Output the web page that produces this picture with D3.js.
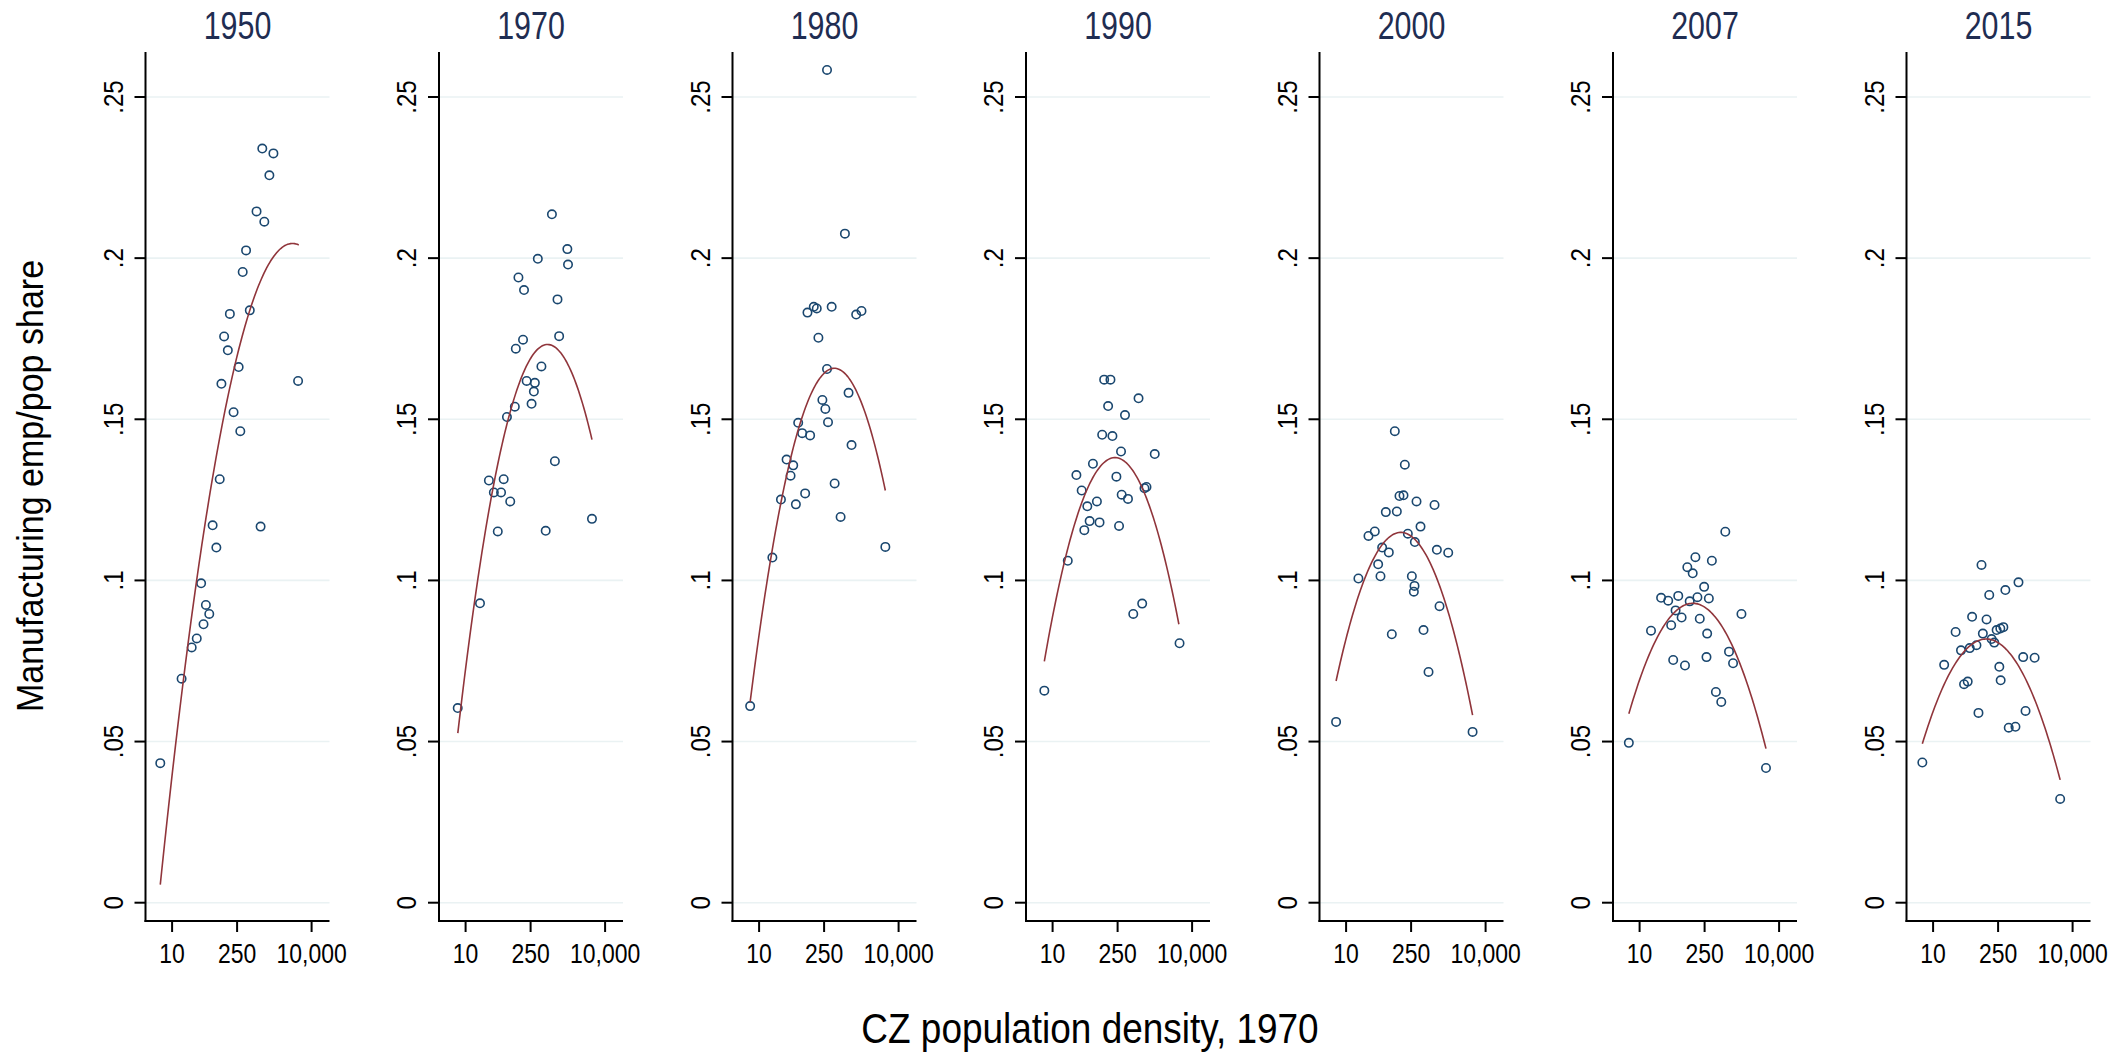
<!DOCTYPE html>
<html><head><meta charset="utf-8">
<script src="https://cdn.jsdelivr.net/npm/d3@7"></script>
<style>body{margin:0;background:#fff} svg{display:block}</style>
</head><body><svg id="c" width="2124" height="1053"></svg>
<script>
const years = ["1950","1970","1980","1990","2000","2007","2015"];
const yTicks = [0, .05, .1, .15, .2, .25];
const yTickLabels = ["0", ".05", ".1", ".15", ".2", ".25"];
const xTicks = [10, 250, 10000];
const xTickLabels = ["10", "250", "10,000"];
const xTitle = "CZ population density, 1970";
const yTitle = "Manufacturing emp/pop share";

// [density, share]
const pts1950 = [[5.57,.0433],[16.0,.0695],[26.4,.0792],[33.9,.0820],[47.4,.0864],[53.3,.0924],[63.0,.0896],[42.1,.0991],[89.5,.1102],[74.4,.1171],[105.7,.1314],[800,.1167],[209.9,.1522],[293,.1463],[115,.161],[270,.1662],[158,.1714],[131.4,.1757],[174.7,.1827],[468.5,.1838],[329.8,.1957],[389.8,.2024],[654.6,.2145],[961.6,.2113],[1236,.2257],[870,.234],[1510,.2325],[5123,.1619]];
const pts1970 = [[6.77,.0604],[20.4,.0929],[49.2,.1152],[31.7,.131],[40.5,.1273],[57.9,.1273],[65.9,.1314],[91.2,.1245],[77.5,.1507],[114.5,.1539],[262.3,.1548],[205.6,.1619],[308.6,.1613],[293.9,.1586],[427.2,.1664],[120.2,.1719],[171.9,.1747],[136.9,.194],[180.5,.1901],[357.3,.1998],[718.7,.2136],[1543,.2028],[1594,.198],[947,.1872],[1027,.1758],[831.8,.137],[527.8,.1154],[5220,.1191]];
const pts1980 = [[6.42,.061],[19.3,.1071],[29.5,.1251],[61.8,.1236],[97.8,.127],[39.0,.1375],[54.2,.1357],[47.5,.1325],[69.3,.1489],[84.4,.1457],[125.1,.145],[229.7,.156],[266.2,.1532],[303.5,.1491],[288.9,.1656],[188.6,.1753],[109.7,.1831],[149.9,.1849],[173.8,.1844],[363.6,.1849],[1224,.1825],[1592,.1836],[839.5,.1582],[973,.142],[421.4,.1301],[566,.1197],[700.8,.2076],[288.9,.2584],[5188,.1104]];
const pts1990 = [[6.64,.0658],[21.2,.1061],[48.1,.1156],[62.6,.1184],[102.2,.118],[55.8,.123],[89.7,.1245],[42.2,.1279],[32.5,.1327],[73.7,.1362],[116.5,.1452],[193.5,.1448],[128.5,.1623],[175.5,.1623],[156.4,.1541],[360.5,.1513],[705,.1565],[296.2,.14],[235.5,.1322],[306,.1266],[417.8,.1253],[268.5,.1169],[947,.1286],[1045,.129],[1573,.1392],[543,.0896],[844.5,.0928],[5371,.0805]];
const pts2000 = [[6.09,.0561],[18.4,.1006],[30.3,.1138],[41.4,.1152],[48.9,.105],[54.9,.1013],[59.6,.1102],[82.9,.1087],[71.5,.1212],[123.3,.1214],[140.7,.1262],[171.6,.1264],[111.6,.1463],[183.3,.1359],[326.8,.1245],[212.7,.1145],[300.9,.1119],[398.5,.1167],[797.7,.1234],[895.6,.1095],[1571,.1086],[259.4,.1013],[296,.0983],[286.3,.0965],[1022,.092],[96.2,.0833],[462.4,.0846],[592.5,.0716],[5249,.053]];
const pts2007 = [[5.87,.0496],[17.6,.0844],[29.0,.0946],[41.2,.0937],[47.8,.0861],[59.4,.0907],[67.8,.0952],[80.1,.0885],[52.8,.0753],[94.6,.0736],[106.3,.1041],[138.7,.1022],[158.5,.1072],[119.5,.0935],[175.2,.0948],[244.3,.098],[308.5,.0944],[196.8,.0881],[358.3,.1061],[697,.1151],[283.8,.0835],[274.5,.0762],[437.5,.0654],[570.9,.0623],[837.4,.0779],[1023,.0743],[1550,.0896],[5226,.0418]];
const pts2015 = [[5.87,.0435],[17.3,.0738],[30.5,.084],[39.8,.0783],[46.3,.0678],[55.5,.0686],[61.4,.079],[69.0,.0887],[85.6,.0799],[94.6,.0589],[109.9,.1048],[117.5,.0835],[141.1,.0879],[161.2,.0955],[181.1,.0818],[206.9,.0807],[232.4,.0846],[279.1,.0851],[324.3,.0855],[265.6,.0732],[283.8,.069],[358.3,.097],[685.8,.0994],[865.9,.0762],[1525,.076],[972.7,.0595],[423.2,.0543],[590.3,.0546],[5404,.0322]];

// quadratic fit curves: start, middle, end [density, share]
const fit1950 = [[5.57,.0056],[468.5,.1838],[5297,.2041]];
const fit1970 = [[6.8,.0526],[563,.1732],[5220,.1437]];
const fit1980 = [[6.42,.0623],[388,.1658],[5188,.1279]];
const fit1990 = [[6.64,.0749],[224.2,.1381],[5196,.0864]];
const fit2000 = [[6.09,.0688],[152.8,.1149],[5249,.0582]];
const fit2007 = [[5.87,.0586],[136.4,.0929],[5226,.0478]];
const fit2015 = [[5.87,.0493],[148.3,.0818],[5404,.0381]];

const panelPts = [pts1950, pts1970, pts1980, pts1990, pts2000, pts2007, pts2015];
const panelFit = [fit1950, fit1970, fit1980, fit1990, fit2000, fit2007, fit2015];

const svg = d3.select("#c");
const FONT = "'Liberation Sans', Arial, sans-serif";
const plotW = 184, plotTop = 52, plotBottom = 921, step = 293.5, left0 = 145.5;

const y = d3.scaleLinear().domain([0, .25]).range([902.7, 97]);
const x = d3.scaleLog().domain([Math.pow(10, 0.428), Math.pow(10, 4.385)]).range([0, plotW]);

function parab(f) {
  const u = f.map(d => Math.log10(d[0])), v = f.map(d => d[1]);
  return t => v[0]*(t-u[1])*(t-u[2])/((u[0]-u[1])*(u[0]-u[2]))
            + v[1]*(t-u[0])*(t-u[2])/((u[1]-u[0])*(u[1]-u[2]))
            + v[2]*(t-u[0])*(t-u[1])/((u[2]-u[0])*(u[2]-u[1]));
}

years.forEach((yr, i) => {
  const g = svg.append("g").attr("transform", `translate(${left0 + step*i},0)`);
  g.selectAll("line.grid").data(yTicks).join("line").attr("class", "grid")
    .attr("x1", 0).attr("x2", plotW)
    .attr("y1", d => y(d)).attr("y2", d => y(d))
    .attr("stroke", "#eaf2f3").attr("stroke-width", 1.6);
  g.append("text").attr("transform", `translate(${plotW/2},39) scale(0.8,1)`)
    .attr("text-anchor", "middle").attr("font-family", FONT).attr("font-size", 38)
    .attr("fill", "#1f2d52").text(yr);
  g.append("line").attr("x1", 0).attr("x2", 0).attr("y1", plotTop).attr("y2", plotBottom + 1)
    .attr("stroke", "#000").attr("stroke-width", 2);
  g.selectAll("line.yt").data(yTicks).join("line").attr("class", "yt")
    .attr("x1", -11).attr("x2", 0).attr("y1", d => y(d)).attr("y2", d => y(d))
    .attr("stroke", "#000").attr("stroke-width", 2);
  g.selectAll("text.yl").data(yTicks).join("text").attr("class", "yl")
    .attr("transform", d => `translate(-23,${y(d)}) rotate(-90) scale(0.86,1)`)
    .attr("text-anchor", "middle").attr("font-family", FONT).attr("font-size", 28)
    .attr("fill", "#000").text((d, j) => yTickLabels[j]);
  g.append("line").attr("x1", -1).attr("x2", plotW).attr("y1", plotBottom).attr("y2", plotBottom)
    .attr("stroke", "#000").attr("stroke-width", 2);
  g.selectAll("line.xt").data(xTicks).join("line").attr("class", "xt")
    .attr("x1", d => x(d)).attr("x2", d => x(d)).attr("y1", plotBottom).attr("y2", plotBottom + 11)
    .attr("stroke", "#000").attr("stroke-width", 2);
  g.selectAll("text.xl").data(xTicks).join("text").attr("class", "xl")
    .attr("transform", d => `translate(${x(d)},963) scale(0.82,1)`)
    .attr("text-anchor", "middle").attr("font-family", FONT).attr("font-size", 28)
    .attr("fill", "#000").text((d, j) => xTickLabels[j]);
  g.selectAll("circle").data(panelPts[i]).join("circle")
    .attr("cx", d => x(d[0])).attr("cy", d => y(d[1])).attr("r", 4.2)
    .attr("fill", "none").attr("stroke", "#1a476f").attr("stroke-width", 1.6);
  const f = panelFit[i], q = parab(f);
  const u0 = Math.log10(f[0][0]), u1 = Math.log10(f[2][0]);
  const curve = d3.range(0, 101).map(k => { const t = u0 + (u1-u0)*k/100; return [Math.pow(10, t), q(t)]; });
  g.append("path").datum(curve)
    .attr("d", d3.line().x(d => x(d[0])).y(d => y(d[1])))
    .attr("fill", "none").attr("stroke", "#90353b").attr("stroke-width", 1.6);
});

svg.append("text").attr("transform", "translate(1090,1043) scale(0.88,1)")
  .attr("text-anchor", "middle").attr("font-family", FONT).attr("font-size", 42)
  .attr("fill", "#000").text(xTitle);
svg.append("text").attr("transform", "translate(43,486) rotate(-90) scale(0.92,1)")
  .attr("text-anchor", "middle").attr("font-family", FONT).attr("font-size", 37)
  .attr("fill", "#000").text(yTitle);
</script></body></html>
